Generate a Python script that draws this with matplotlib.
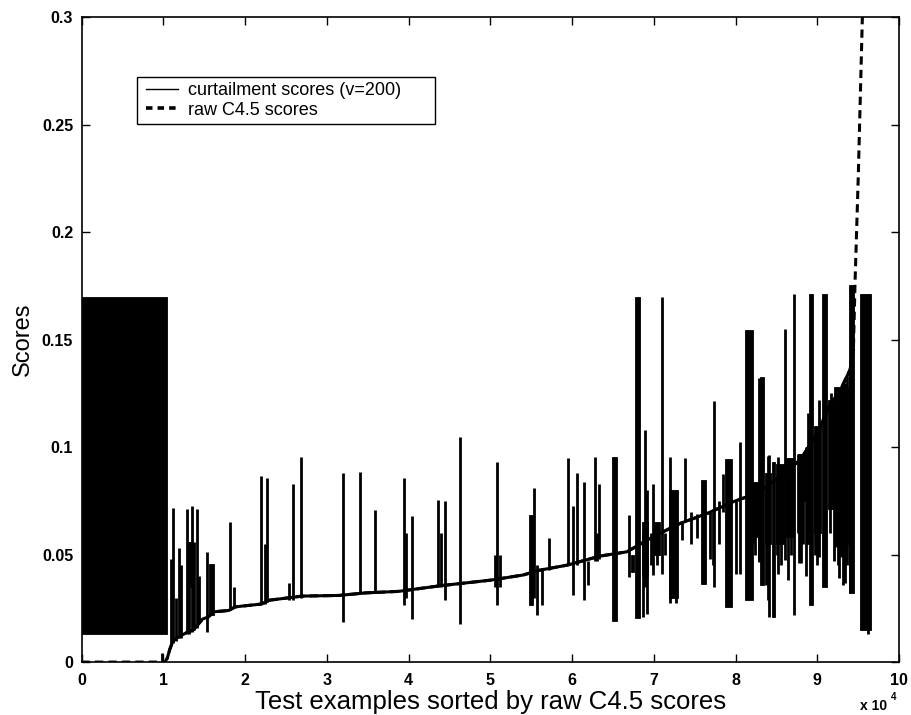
import matplotlib
matplotlib.use("Agg")
import matplotlib.pyplot as plt
import numpy as np
from matplotlib.lines import Line2D
from matplotlib.patches import Rectangle

plt.rcParams['font.family'] = ['Liberation Sans', 'DejaVu Sans']

# ---------------- data (x in units of 1e4 test examples) ----------------
raw_x = [0.0, 1.02, 1.05, 1.08, 1.12, 1.2, 1.3, 1.37, 1.48, 1.55, 1.62, 1.8, 1.88,
         2.2, 2.3, 2.7, 3.15, 3.48, 3.88, 4.385, 5.0, 5.4, 5.61, 5.94, 6.34, 6.67,
         6.99, 7.32, 7.65, 7.97, 8.26, 8.38, 8.58, 8.79, 8.99, 9.16, 9.28, 9.40,
         9.44, 9.46, 9.50, 9.55, 9.56]
raw_y = [0.0, 0.0, 0.002, 0.006, 0.010, 0.012, 0.014, 0.015, 0.020, 0.021, 0.0234,
         0.024, 0.0257, 0.027, 0.0288, 0.0307, 0.031, 0.0322, 0.0329, 0.0355, 0.0381,
         0.0405, 0.0428, 0.0451, 0.0493, 0.0513, 0.0583, 0.0645, 0.0691, 0.0746,
         0.0785, 0.0816, 0.0877, 0.094, 0.106, 0.120, 0.1265, 0.136, 0.145, 0.176,
         0.226, 0.30, 0.315]

# curtailment baseline follows the raw curve between these x limits
curt_start = 1.04
curt_end = 9.445

# single curtailment spikes: x, low, high
spike_x = [0.98, 1.10, 1.115, 1.16, 1.19, 1.22, 1.287, 1.31, 1.348, 1.38, 1.409, 1.44,
           1.53, 1.81, 1.865, 2.2, 2.24, 2.27, 2.54, 2.59, 2.69, 3.195, 3.41, 3.59,
           3.95, 3.97, 4.04, 4.365, 4.40, 4.446, 4.63, 5.06, 5.086, 5.12, 5.54, 5.57,
           5.63, 5.715, 5.95, 6.01, 6.06, 6.15, 6.2, 6.28, 6.31, 6.33,
           6.70, 6.865, 6.89, 6.91, 6.96, 6.99, 7.04, 7.10, 7.14, 7.20, 7.27, 7.34, 7.38,
           7.45, 7.525, 7.69, 7.72, 7.74, 7.80, 7.85, 8.01, 8.055,
           8.23, 8.24, 8.28, 8.29, 8.37, 8.40, 8.41, 8.50, 8.52, 8.56, 8.605, 8.64, 8.68,
           8.715, 8.76, 8.78, 8.80, 8.83, 8.86, 8.89, 8.97, 9.00, 9.025,
           9.15, 9.17, 9.18, 9.20, 9.23, 9.25, 9.27, 9.29, 9.31, 9.34, 9.36, 9.40,
           9.58, 9.60, 9.62]
spike_lo = [0.0, 0.008, 0.009, 0.010, 0.011, 0.011, 0.013, 0.013, 0.014, 0.015, 0.016, 0.018,
            0.014, 0.024, 0.025, 0.027, 0.027, 0.028, 0.029, 0.029, 0.030, 0.0188, 0.032, 0.032,
            0.0265, 0.030, 0.020, 0.035, 0.035, 0.0288, 0.0177, 0.035, 0.0265, 0.035, 0.030, 0.0219,
            0.0265, 0.043, 0.045, 0.031, 0.045, 0.0288, 0.0358, 0.047, 0.047, 0.048,
            0.0397, 0.021, 0.035, 0.0226, 0.045, 0.0405, 0.045, 0.0412, 0.050, 0.0273, 0.0273, 0.0567, 0.065,
            0.055, 0.0577, 0.048, 0.045, 0.035, 0.055, 0.070, 0.041, 0.041,
            0.055, 0.050, 0.0474, 0.0467, 0.0358, 0.029, 0.0211, 0.050, 0.0412, 0.045, 0.0474, 0.038, 0.050,
            0.0219, 0.060, 0.046, 0.0459, 0.055, 0.040, 0.060, 0.050, 0.045, 0.049,
            0.060, 0.071, 0.0715, 0.047, 0.0536, 0.045, 0.039, 0.049, 0.036, 0.0366, 0.045, 0.032,
            0.016, 0.0195, 0.013]
spike_hi = [0.004, 0.048, 0.0716, 0.030, 0.053, 0.045, 0.071, 0.056, 0.0726, 0.056, 0.071, 0.040,
            0.051, 0.065, 0.035, 0.0865, 0.055, 0.0855, 0.037, 0.083, 0.0955, 0.088, 0.0885, 0.0707,
            0.0857, 0.060, 0.068, 0.0753, 0.060, 0.075, 0.1045, 0.050, 0.0929, 0.050, 0.081, 0.045,
            0.043, 0.0576, 0.095, 0.0726, 0.088, 0.084, 0.047, 0.0955, 0.060, 0.083,
            0.0684, 0.060, 0.108, 0.080, 0.060, 0.083, 0.058, 0.170, 0.060, 0.0955, 0.080, 0.065, 0.0948,
            0.070, 0.069, 0.070, 0.070, 0.1216, 0.075, 0.0877, 0.075, 0.1025,
            0.080, 0.078, 0.080, 0.132, 0.080, 0.096, 0.0963, 0.085, 0.0955, 0.088, 0.155, 0.090, 0.090,
            0.171, 0.097, 0.097, 0.094, 0.096, 0.100, 0.1157, 0.105, 0.106, 0.122,
            0.120, 0.125, 0.120, 0.122, 0.125, 0.125, 0.126, 0.1265, 0.130, 0.130, 0.133, 0.140,
            0.160, 0.171, 0.171]

# dense curtailment oscillation bands: x start, x end, low, high
block_x0 = [0.0, 1.30, 1.56, 5.47, 6.49, 6.72, 6.77, 6.86, 7.00, 7.19, 7.58, 7.87, 8.11,
            8.18, 8.30, 8.36, 8.44, 8.49, 8.61, 8.76, 8.86, 8.90, 8.96, 9.06, 9.13, 9.20,
            9.39, 9.52]
block_x1 = [1.05, 1.36, 1.62, 5.52, 6.55, 6.76, 6.83, 6.93, 7.08, 7.29, 7.64, 7.95, 8.21,
            8.29, 8.35, 8.43, 8.48, 8.59, 8.70, 8.85, 8.90, 8.95, 9.05, 9.12, 9.19, 9.38,
            9.45, 9.66]
block_lo = [0.013, 0.035, 0.022, 0.0265, 0.0192, 0.042, 0.0203, 0.040, 0.050, 0.030, 0.0363,
            0.0257, 0.0288, 0.058, 0.0358, 0.055, 0.0211, 0.055, 0.058, 0.075, 0.055, 0.0265,
            0.060, 0.035, 0.071, 0.055, 0.032, 0.0149]
block_hi = [0.170, 0.056, 0.0456, 0.0684, 0.0955, 0.050, 0.170, 0.065, 0.065, 0.080, 0.0847,
            0.0947, 0.1544, 0.084, 0.1327, 0.088, 0.0932, 0.092, 0.095, 0.097, 0.100, 0.171,
            0.110, 0.171, 0.122, 0.128, 0.1753, 0.171]

x_ticks = [0, 1, 2, 3, 4, 5, 6, 7, 8, 9, 10]
y_ticks = [0, 0.05, 0.1, 0.15, 0.2, 0.25, 0.3]
y_ticklabels = ['0', '0.05', '0.1', '0.15', '0.2', '0.25', '0.3']

# ---------------- figure ----------------
fig = plt.figure(figsize=(9.11, 7.15), dpi=100)
ax = fig.add_axes([0.0895, 0.074, 0.8975, 0.902])

raw_x_a = np.array(raw_x)
raw_y_a = np.array(raw_y)

# blocks
bx0 = np.array(block_x0)
bx1 = np.array(block_x1)
blo = np.array(block_lo)
bhi = np.array(block_hi)
ax.bar(bx0, bhi - blo, width=bx1 - bx0, bottom=blo, align='edge',
       color='black', edgecolor='black', linewidth=0.6, zorder=2)

# spikes
ax.vlines(spike_x, spike_lo, spike_hi, colors='black', linewidth=2.0, zorder=2)

# curtailment baseline
m = (raw_x_a >= curt_start) & (raw_x_a <= curt_end)
ax.plot(raw_x_a[m], raw_y_a[m], color='black', linewidth=2.2, solid_joinstyle='round', zorder=3)

# raw C4.5 dashed curve
ax.plot(raw_x_a, raw_y_a, color='black', linewidth=2.2, dashes=(2.7, 1.7), zorder=3)

ax.set_xlim(0, 10)
ax.set_ylim(0, 0.3)
ax.set_xticks(x_ticks)
ax.set_xticklabels([str(t) for t in x_ticks])
ax.set_yticks(y_ticks)
ax.set_yticklabels(y_ticklabels)
ax.tick_params(direction='in', length=6, width=1.0, top=True, right=True,
               labelsize=11.5)
ax.tick_params(axis='x', pad=8)
ax.tick_params(axis='y', pad=6)
for lab in ax.get_xticklabels() + ax.get_yticklabels():
    lab.set_fontweight('bold')
for s in ax.spines.values():
    s.set_linewidth(1.2)

ax.set_xlabel('Test examples sorted by raw C4.5 scores', fontsize=18.5, labelpad=1)
ax.set_ylabel('Scores', fontsize=17, labelpad=6)

# x 10^4 multiplier
ax.annotate('x 10', xy=(0.952, -0.074), xycoords='axes fraction', fontsize=10,
            fontweight='bold', ha='left', va='baseline')
ax.annotate('4', xy=(0.990, -0.059), xycoords='axes fraction', fontsize=7,
            fontweight='bold', ha='left', va='baseline')

handles = [Line2D([], [], color='black', linewidth=1.0),
           Line2D([], [], color='black', linewidth=2.6, dashes=(1.8, 1.4))]
leg = ax.legend(handles, ['curtailment scores (v=200)', 'raw C4.5 scores'],
                loc='upper left', bbox_to_anchor=(0.072, 0.908), borderaxespad=0,
                fontsize=13, frameon=False, handlelength=1.8,
                handletextpad=0.55, borderpad=0.3, labelspacing=0.15)
# MATLAB-style legend box (wider than its text)
ax.add_patch(Rectangle((0.0679, 0.834), 0.3645, 0.073, transform=ax.transAxes,
                       facecolor='white', edgecolor='black', linewidth=1.0, zorder=4))
leg.set_zorder(5)

fig.savefig('out.png', dpi=100)
